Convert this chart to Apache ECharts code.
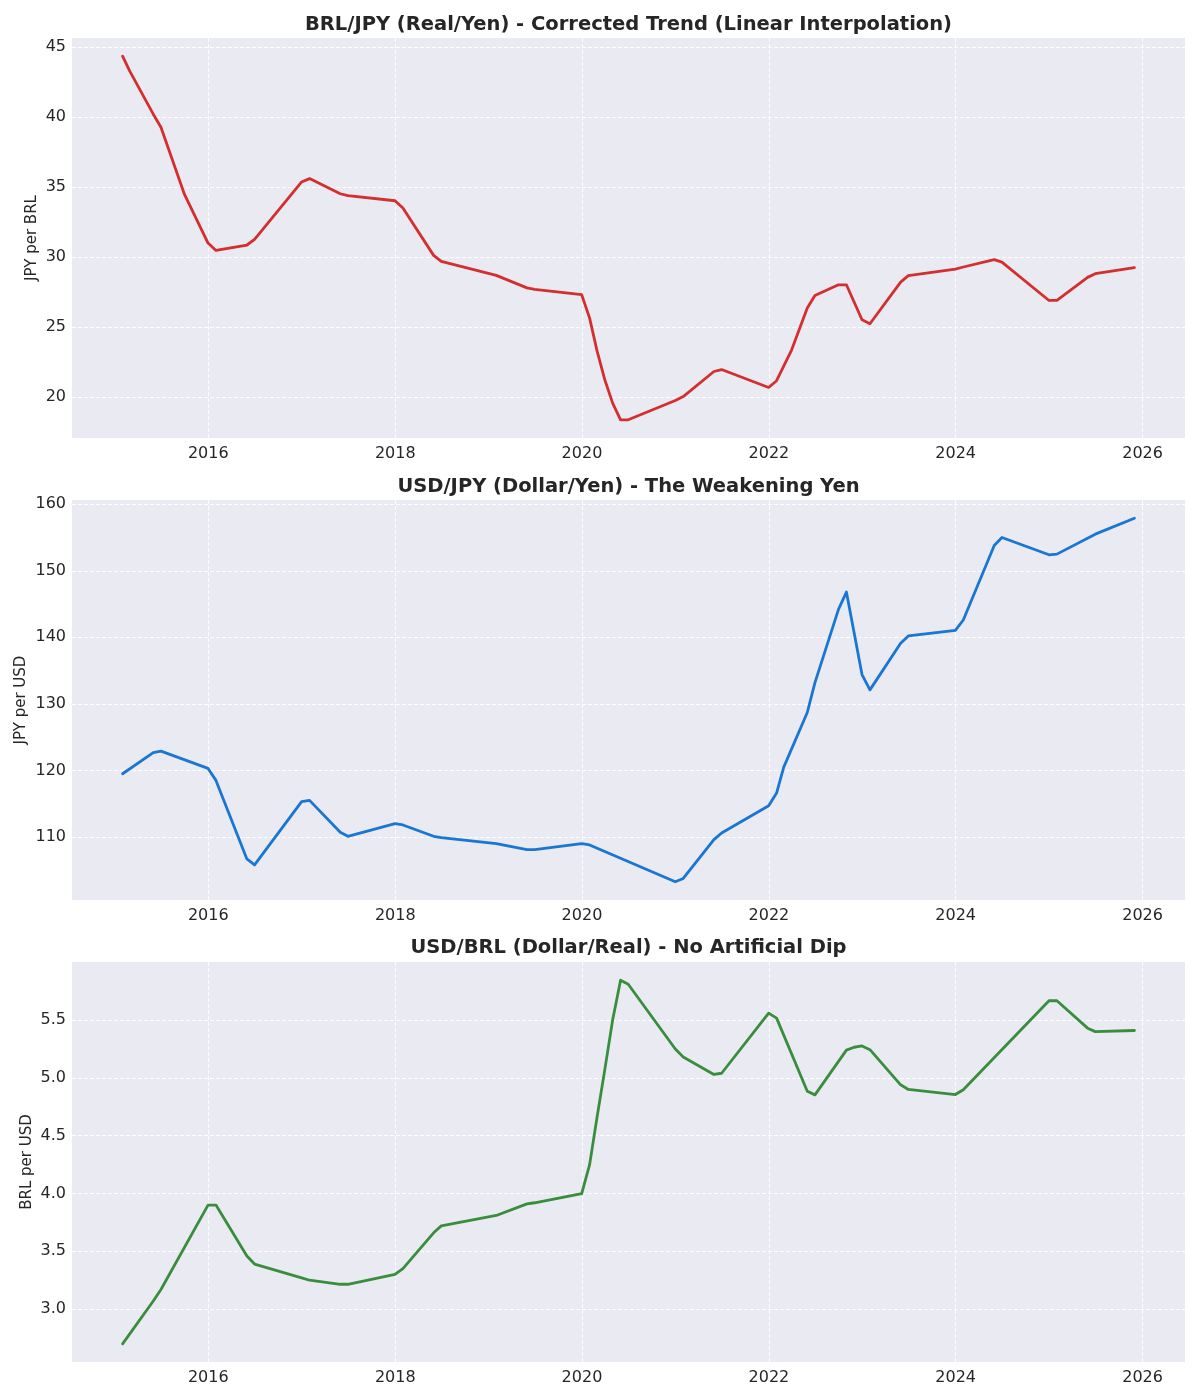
<!DOCTYPE html>
<html>
<head>
<meta charset="utf-8">
<script src="https://cdn.jsdelivr.net/npm/echarts@6/dist/echarts.min.js"></script>
<style>
html,body{margin:0;padding:0;background:#ffffff;}
#chart{width:1200px;height:1400px;}
</style>
</head>
<body>
<div id="chart"></div>
<script>
// ---------- DATA ----------
const brlJpyDates = [
  '2015-01-31','2015-02-28','2015-05-31','2015-06-30','2015-09-30','2015-12-31',
  '2016-01-31','2016-05-31','2016-06-30','2016-12-31',
  '2017-01-31','2017-05-31','2017-06-30','2017-12-31',
  '2018-01-31','2018-05-31','2018-06-30',
  '2019-01-31','2019-05-31','2019-06-30','2019-12-31',
  '2020-01-31','2020-02-29','2020-03-31','2020-04-30','2020-05-31','2020-06-30','2020-12-31',
  '2021-01-31','2021-05-31','2021-06-30','2021-12-31',
  '2022-01-31','2022-03-31','2022-05-31','2022-06-30','2022-09-30','2022-10-31','2022-12-31',
  '2023-01-31','2023-05-31','2023-06-30','2023-12-31',
  '2024-01-31','2024-05-31','2024-06-30','2024-12-31',
  '2025-01-31','2025-05-31','2025-06-30','2025-11-30'
];
const brlJpyValues = [
  44.34, 43.27, 40.2, 39.27, 34.47, 31.0,
  30.47, 30.86, 31.26, 35.36,
  35.6, 34.52, 34.38, 34.02,
  33.5, 30.12, 29.69,
  28.69, 27.8, 27.7, 27.31,
  25.64, 23.3, 21.2, 19.57, 18.38, 18.38, 19.76,
  20.04, 21.83, 21.97, 20.69,
  21.17, 23.38, 26.36, 27.26, 28.02, 28.02, 25.52,
  25.24, 28.21, 28.67, 29.14,
  29.29, 29.81, 29.64, 26.9,
  26.9, 28.55, 28.81, 29.24
];

const usdJpyDates = [
  '2015-01-31','2015-05-31','2015-06-30','2015-12-31',
  '2016-01-31','2016-05-31','2016-06-30','2016-12-31',
  '2017-01-31','2017-05-31','2017-06-30','2017-12-31',
  '2018-01-31','2018-05-31','2018-06-30',
  '2019-01-31','2019-05-31','2019-06-30','2019-12-31',
  '2020-01-31','2020-12-31',
  '2021-01-31','2021-05-31','2021-06-30','2021-12-31',
  '2022-01-31','2022-02-28','2022-05-31','2022-06-30','2022-09-30','2022-10-31','2022-12-31',
  '2023-01-31','2023-05-31','2023-06-30','2023-12-31',
  '2024-01-31','2024-05-31','2024-06-30','2024-12-31',
  '2025-01-31','2025-06-30','2025-11-30'
];
const usdJpyValues = [
  119.5, 122.66, 122.9, 120.3,
  118.5, 106.7, 105.8, 115.3,
  115.5, 110.7, 110.1, 112.0,
  111.8, 110.1, 109.9,
  109.0, 108.1, 108.1, 109.0,
  108.8, 103.26,
  103.76, 109.6, 110.6, 114.7,
  116.6, 120.5, 128.7, 133.2, 144.2, 146.8, 134.4,
  132.1, 139.1, 140.2, 141.05,
  142.6, 153.8, 155.0, 152.4,
  152.5, 155.5, 157.9
];

const usdBrlDates = [
  '2015-01-31','2015-05-31','2015-06-30','2015-12-31',
  '2016-01-31','2016-05-31','2016-06-30','2016-12-31',
  '2017-01-31','2017-05-31','2017-06-30','2017-12-31',
  '2018-01-31','2018-05-31','2018-06-30',
  '2019-01-31','2019-05-31','2019-06-30','2019-12-31',
  '2020-01-31','2020-02-29','2020-03-31','2020-04-30','2020-05-31','2020-06-30','2020-12-31',
  '2021-01-31','2021-05-31','2021-06-30','2021-12-31',
  '2022-01-31','2022-05-31','2022-06-30','2022-10-31','2022-11-30','2022-12-31',
  '2023-01-31','2023-05-31','2023-06-30','2023-12-31',
  '2024-01-31','2024-12-31',
  '2025-01-31','2025-05-31','2025-06-30','2025-11-30'
];
const usdBrlValues = [
  2.70, 3.07, 3.17, 3.90,
  3.90, 3.46, 3.39, 3.27,
  3.25, 3.215, 3.215, 3.30,
  3.35, 3.66, 3.72,
  3.81, 3.91, 3.92, 4.00,
  4.25, 4.66, 5.08, 5.50, 5.845, 5.81, 5.25,
  5.18, 5.03, 5.04, 5.56,
  5.517, 4.885, 4.853, 5.24, 5.265, 5.276,
  5.244, 4.94, 4.90, 4.856,
  4.897, 5.667,
  5.667, 5.43, 5.40, 5.41
];

const xTickYears = [2016, 2018, 2020, 2022, 2024, 2026];
const brlJpyTicks = [20, 25, 30, 35, 40, 45];
const usdJpyTicks = [110, 120, 130, 140, 150, 160];
const usdBrlTicks = [3.0, 3.5, 4.0, 4.5, 5.0, 5.5];

const panelTitles = [
  'BRL/JPY (Real/Yen) - Corrected Trend (Linear Interpolation)',
  'USD/JPY (Dollar/Yen) - The Weakening Yen',
  'USD/BRL (Dollar/Real) - No Artificial Dip'
];
const yAxisNames = ['JPY per BRL', 'JPY per USD', 'BRL per USD'];
const lineColors = ['#D32F2F', '#1976D2', '#388E3C'];

// ---------- BUILD ----------
const panels = [
  {dates: brlJpyDates, values: brlJpyValues, ticks: brlJpyTicks, dec: 0, gap: 32},
  {dates: usdJpyDates, values: usdJpyValues, ticks: usdJpyTicks, dec: 0, gap: 43},
  {dates: usdBrlDates, values: usdBrlValues, ticks: usdBrlTicks, dec: 1, gap: 37}
];
const gridTops = [38, 500, 962];
const gridH = 400;
const gridLeft = 72, gridW = 1113;
const titleCenters = [26, 488, 949];
const FONT = 'DejaVu Sans';
const TXT = '#262626';

const xTickValues = xTickYears.map(y => Date.UTC(y, 0, 1));

const grids = [], xAxes = [], yAxes = [], series = [], titles = [];
panels.forEach((p, i) => {
  const ts = p.dates.map(d => Date.parse(d));
  const t0 = Math.min(...ts), t1 = Math.max(...ts);
  const xPad = (t1 - t0) * 0.05;
  const v0 = Math.min(...p.values), v1 = Math.max(...p.values);
  const yPad = (v1 - v0) * 0.05;

  grids.push({
    left: gridLeft, top: gridTops[i], width: gridW, height: gridH,
    show: true, backgroundColor: '#EAEAF2', borderWidth: 0
  });
  xAxes.push({
    type: 'value', gridIndex: i, min: t0 - xPad, max: t1 + xPad, scale: true,
    axisLine: {show: false},
    axisTick: {show: false, customValues: xTickValues},
    axisLabel: {
      customValues: xTickValues, fontSize: 16, fontFamily: FONT, color: TXT, margin: 8,
      formatter: v => String(new Date(v).getUTCFullYear())
    },
    splitLine: {show: true, lineStyle: {color: '#ffffff', width: 0.9, type: [4, 2]}}
  });
  yAxes.push({
    type: 'value', gridIndex: i, min: v0 - yPad, max: v1 + yPad, scale: true,
    name: yAxisNames[i], nameLocation: 'middle', nameRotate: 90, nameGap: p.gap,
    nameMoveOverlap: false,
    nameTextStyle: {fontSize: 15, fontFamily: FONT, color: TXT},
    axisLine: {show: false},
    axisTick: {show: false, customValues: p.ticks},
    axisLabel: {
      customValues: p.ticks, fontSize: 16, fontFamily: FONT, color: TXT, margin: 6,
      formatter: v => Number(v).toFixed(p.dec)
    },
    splitLine: {show: true, lineStyle: {color: '#ffffff', width: 0.9, type: [4, 2]}}
  });
  series.push({
    type: 'line', xAxisIndex: i, yAxisIndex: i,
    data: ts.map((t, k) => [t, p.values[k]]),
    showSymbol: false, symbol: 'none', smooth: false,
    lineStyle: {color: lineColors[i], width: 2.8, join: 'round', cap: 'round'},
    itemStyle: {color: lineColors[i]},
    animation: false
  });
  titles.push({
    text: panelTitles[i], left: gridLeft + gridW / 2, textAlign: 'center',
    top: titleCenters[i] - 11, padding: 0,
    textStyle: {fontSize: 19.5, fontWeight: 'bold', fontFamily: FONT, color: TXT}
  });
});

const chart = echarts.init(document.getElementById('chart'), null, {renderer: 'canvas'});
chart.setOption({
  backgroundColor: '#ffffff',
  animation: false,
  title: titles,
  grid: grids,
  xAxis: xAxes,
  yAxis: yAxes,
  series: series
});
</script>
</body>
</html>
